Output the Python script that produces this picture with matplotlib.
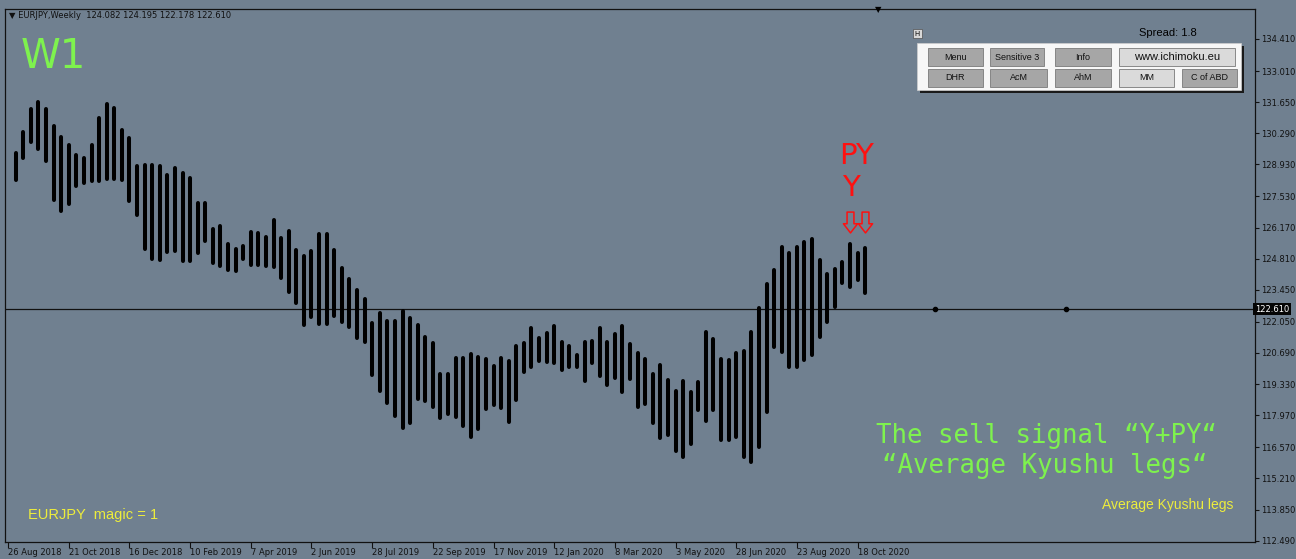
import matplotlib
matplotlib.use('Agg')
import matplotlib.pyplot as plt
from matplotlib.patches import Rectangle
from matplotlib.path import Path
import matplotlib.transforms as mtransforms

W, H = 1296, 559
BG = '#708090'

# ---------------- data ----------------
bar_index = list(range(1, 114))
highs = [129.44, 130.35, 131.34, 131.67, 131.36, 130.61, 130.13, 129.78, 129.34, 129.22,
         129.77, 130.96, 131.56, 131.38, 130.43, 130.10, 128.85, 128.89, 128.89, 128.85,
         128.45, 128.76, 128.57, 128.35, 127.26, 127.26, 126.12, 126.24, 125.45, 125.25,
         125.37, 125.99, 125.95, 125.74, 126.52, 125.73, 126.02, 125.19, 124.93, 125.16,
         125.91, 125.91, 125.19, 124.39, 123.91, 123.44, 123.04, 121.99, 122.45, 122.09,
         122.09, 122.53, 122.21, 121.91, 121.38, 121.11, 119.77, 119.77, 120.46, 120.46,
         120.63, 120.53, 120.41, 120.12, 120.46, 120.34, 121.00, 121.11, 121.77, 121.33,
         121.58, 121.87, 121.18, 121.00, 120.60, 121.15, 121.23, 121.77, 121.16, 121.53,
         121.87, 121.08, 120.71, 120.42, 119.76, 120.17, 119.51, 119.04, 119.47, 119.00,
         119.41, 121.62, 121.29, 120.43, 120.39, 120.68, 120.78, 121.59, 122.67, 123.69,
         124.32, 125.31, 125.07, 125.31, 125.55, 125.67, 124.75, 124.14, 124.36, 124.68,
         125.44, 125.05, 125.26]
lows = [128.25, 129.20, 129.90, 129.59, 129.09, 127.36, 126.91, 127.19, 127.99, 128.10,
        128.19, 128.21, 128.28, 128.28, 128.25, 127.33, 126.73, 125.22, 124.81, 124.77,
        125.12, 125.13, 124.71, 124.71, 125.05, 125.57, 124.61, 124.48, 124.32, 124.29,
        124.81, 124.55, 124.54, 124.49, 124.45, 123.95, 123.37, 122.88, 121.90, 122.28,
        121.96, 121.96, 122.32, 122.06, 121.83, 121.35, 121.15, 119.73, 119.04, 118.49,
        117.95, 117.40, 117.62, 118.67, 118.59, 118.32, 117.84, 118.03, 117.91, 117.50,
        117.01, 117.38, 118.24, 118.42, 118.30, 117.69, 118.64, 119.85, 120.09, 120.34,
        120.31, 120.24, 119.95, 120.07, 120.07, 119.48, 120.24, 119.70, 119.29, 119.60,
        118.99, 119.55, 118.33, 118.44, 117.65, 116.97, 117.11, 116.42, 116.13, 116.72,
        118.20, 117.73, 118.20, 116.89, 116.89, 117.03, 116.13, 115.94, 116.57, 118.10,
        120.97, 120.72, 120.09, 120.09, 120.38, 120.60, 121.40, 122.06, 122.71, 123.73,
        123.59, 123.88, 123.29]

date_tick_index = [0, 8, 16, 24, 32, 40, 48, 56, 64, 72, 80, 88, 96, 104, 112]
date_tick_labels = ['26 Aug 2018', '21 Oct 2018', '16 Dec 2018', '10 Feb 2019', '7 Apr 2019',
                    '2 Jun 2019', '28 Jul 2019', '22 Sep 2019', '17 Nov 2019', '12 Jan 2020',
                    '8 Mar 2020', '3 May 2020', '28 Jun 2020', '23 Aug 2020', '18 Oct 2020']
price_ticks = [134.410, 133.010, 131.650, 130.290, 128.930, 127.530, 126.170, 124.810,
               123.450, 122.050, 120.690, 119.330, 117.970, 116.570, 115.210, 113.850, 112.490]

current_price = 122.610
price_line_dots = [122.2, 139.5]
signal_bars = [111, 113]
signal_arrow_level = 126.40

header = '\u25BC EURJPY,Weekly  124.082 124.195 122.178 122.610'

# ---------------- figure ----------------
fig = plt.figure(figsize=(W / 100, H / 100), dpi=100, facecolor=BG)

def fx(x):
    return x / W

def fy(y):
    return 1 - y / H

left_px, right_px, top_px, bot_px = 5, 1255, 9, 542
ax = fig.add_axes([fx(left_px), fy(bot_px), (right_px - left_px) / W, (bot_px - top_px) / H])
ax.set_facecolor(BG)
ax.set_xlim(-0.41, 164.4)
ax.set_ylim(112.43, 135.72)

for s in ax.spines.values():
    s.set_color('#111111')
    s.set_linewidth(0.9)

# bars
lc = ax.vlines(bar_index, lows, highs, colors='black', linewidth=2.9)
lc.set_capstyle('round')

# current price line
ax.axhline(current_price, color='#111111', lw=0.9, zorder=1)
ax.plot(price_line_dots, [current_price] * len(price_line_dots), 'o', ms=3, color='black', zorder=3)

# signal arrows (hollow down arrows)
verts = [(-0.33, 1.0), (0.33, 1.0), (0.33, -0.12), (0.68, -0.12), (0.0, -1.0),
         (-0.68, -0.12), (-0.33, -0.12), (-0.33, 1.0)]
codes = [Path.MOVETO] + [Path.LINETO] * 6 + [Path.CLOSEPOLY]
arrow = Path(verts, codes)
ax.plot(signal_bars, [signal_arrow_level] * len(signal_bars), linestyle='none', marker=arrow,
        ms=15, mfc='none', mec='#ff1010', mew=1.1, zorder=4)

ax.text(111.9, 129.30, 'PY', color='#ff1010', fontsize=21, ha='center', va='center')
ax.text(111.1, 127.90, 'Y', color='#ff1010', fontsize=21, ha='center', va='center')

# axes ticks
ax.set_xticks(date_tick_index)
ax.set_xticklabels(date_tick_labels, ha='left')
ax.yaxis.tick_right()
ax.set_yticks(price_ticks)
ax.set_yticklabels(['%.3f' % v for v in price_ticks])
ax.tick_params(axis='x', direction='out', length=4, width=0.8, colors='#111111',
               labelsize=6, pad=0.5)
ax.tick_params(axis='y', direction='out', length=3, width=0.8, colors='#111111',
               labelsize=6, pad=1.5)

# highlighted current price label
trans = mtransforms.blended_transform_factory(ax.transAxes, ax.transData)
ax.text(1.0, current_price, '%.3f' % current_price, transform=trans, ha='left', va='center',
        fontsize=6, color='white',
        bbox=dict(facecolor='#050505', edgecolor='none', pad=1.2), zorder=6, clip_on=False)

# header and markers
fig.text(fx(9), fy(16), header, fontsize=6, color='#111111', ha='left', va='center')
fig.text(fx(878), fy(10), '\u25BC', fontsize=6, color='black', ha='center', va='center')

# big texts
GREEN = '#7ef24e'
fig.text(fx(53), fy(57), 'W1', fontsize=29, color=GREEN, ha='center', va='center')
fig.text(fx(1046), fy(436), 'The sell signal \u201cY+PY\u201c', fontsize=18.5, color=GREEN,
         ha='center', va='center', family='DejaVu Sans Mono')
fig.text(fx(1045), fy(466), '\u201cAverage Kyushu legs\u201c', fontsize=18.5, color=GREEN,
         ha='center', va='center', family='DejaVu Sans Mono')

YEL = '#eded3c'
fig.text(fx(28), fy(515), 'EURJPY  magic = 1', fontsize=10.5, color=YEL, ha='left', va='center',
         family='Liberation Sans')
fig.text(fx(1233), fy(505), 'Average Kyushu legs', fontsize=10, color=YEL, ha='right', va='center',
         family='Liberation Sans')

# panel
def rect(x0, y0, x1, y1, **kw):
    r = Rectangle((fx(x0), fy(y1)), (x1 - x0) / W, (y1 - y0) / H, transform=fig.transFigure, **kw)
    fig.add_artist(r)
    return r

fig.text(fx(1168), fy(33), 'Spread: 1.8', fontsize=8, color='black', ha='center', va='center',
         family='Liberation Sans')
rect(913, 29, 922, 38, facecolor='#d8d8d8', edgecolor='#505050', linewidth=0.5)
fig.text(fx(917.5), fy(33.5), 'H', fontsize=5, color='black', ha='center', va='center')

rect(920, 46, 1244, 93, facecolor='#1a1a1a', edgecolor='none')
rect(917, 43, 1241, 90, facecolor='#f7f7f7', edgecolor='#cfcfcf', linewidth=0.5)

buttons = [
    (928, 48, 983, 66, 'Menu', '#a6a6a6', 6.5),
    (990, 48, 1044, 66, 'Sensitive 3', '#a6a6a6', 6.5),
    (1055, 48, 1111, 66, 'Info', '#a6a6a6', 6.5),
    (1119, 48, 1235, 66, 'www.ichimoku.eu', '#dadada', 8),
    (928, 69, 983, 87, 'DHR', '#a6a6a6', 6.5),
    (990, 69, 1047, 87, 'AcM', '#a6a6a6', 6.5),
    (1055, 69, 1111, 87, 'AhM', '#a6a6a6', 6.5),
    (1119, 69, 1174, 87, 'MM', '#dadada', 6.5),
    (1182, 69, 1237, 87, 'C of ABD', '#a6a6a6', 6.5),
]
for x0, y0, x1, y1, label, col, fs in buttons:
    rect(x0, y0, x1, y1, facecolor=col, edgecolor='#7a7a7a', linewidth=0.6)
    fig.text(fx((x0 + x1) / 2), fy((y0 + y1) / 2), label, fontsize=fs, color='#111111',
             ha='center', va='center', family='Liberation Sans')

fig.savefig('out.png', dpi=100, facecolor=BG)
